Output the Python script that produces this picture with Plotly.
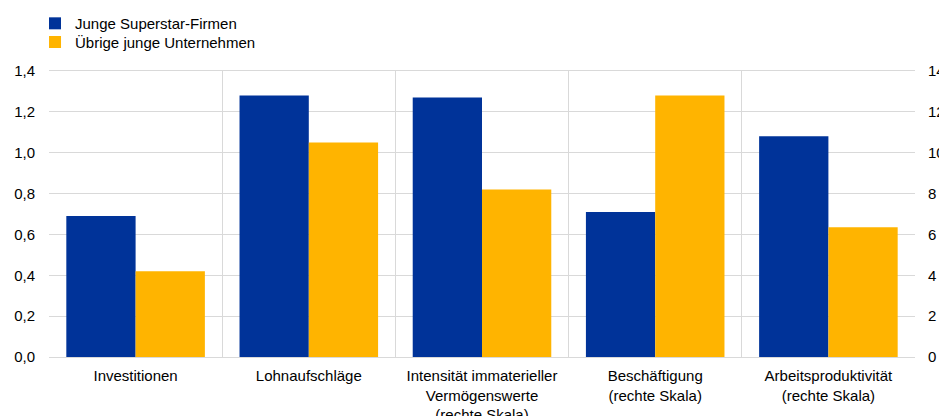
import plotly.graph_objects as go

# Categories (x axis)
categories = [
    "Investitionen",
    "Lohnaufschläge",
    "Intensität immaterieller<br>Vermögenswerte<br>(rechte Skala)",
    "Beschäftigung<br>(rechte Skala)",
    "Arbeitsproduktivität<br>(rechte Skala)",
]
series_names = ["Junge Superstar-Firmen", "Übrige junge Unternehmen"]

# Left-scale categories
left_categories = categories[:2]
superstar_left = [0.69, 1.28]
other_left = [0.42, 1.05]

# Right-scale categories
right_categories = categories[2:]
superstar_right = [12.7, 7.1, 10.8]
other_right = [8.2, 12.8, 6.35]

left_ticks = [0, 0.2, 0.4, 0.6, 0.8, 1.0, 1.2, 1.4]
right_ticks = [0, 2, 4, 6, 8, 10, 12, 14]

BLUE = "#003399"
YELLOW = "#FFB400"
GRID = "#d9d9d9"
FONT = dict(family="Liberation Sans, Arial, sans-serif", size=15, color="#000000")

fig = go.Figure()

def add_bar(x, y, name, color, offset, yaxis, showlegend, legend):
    fig.add_trace(go.Bar(
        x=x, y=y, name=name, marker=dict(color=color, line=dict(width=0)),
        width=0.4, offset=offset, yaxis=yaxis, showlegend=showlegend,
        legendgroup=name, legend=legend,
    ))

add_bar(left_categories, superstar_left, series_names[0], BLUE, -0.4, "y", True, "legend")
add_bar(left_categories, other_left, series_names[1], YELLOW, 0.0, "y", True, "legend2")
add_bar(right_categories, superstar_right, series_names[0], BLUE, -0.4, "y2", False, "legend")
add_bar(right_categories, other_right, series_names[1], YELLOW, 0.0, "y2", False, "legend2")

legend_style = dict(
    xref="container", yref="container", x=0.0373,
    xanchor="left", yanchor="top", font=FONT, bgcolor="rgba(0,0,0,0)",
)

fig.update_layout(
    width=939, height=416,
    margin=dict(l=49, r=24, t=71, b=59, autoexpand=False),
    paper_bgcolor="white", plot_bgcolor="white",
    font=FONT,
    separators=",.",
    barmode="overlay",
    legend=dict(y=0.983, **legend_style),
    legend2=dict(y=0.938, **legend_style),
    xaxis=dict(
        categoryorder="array", categoryarray=categories,
        range=[-0.5, 4.5], automargin=False,
        tickson="boundaries", showgrid=True, gridcolor=GRID, gridwidth=1,
        ticks="", showline=True, linecolor=GRID, mirror=True,
        tickfont=FONT, ticklabelstandoff=5,
    ),
    yaxis=dict(
        range=[0, 1.4], tickvals=left_ticks, tickformat=".1f",
        automargin=False,
        showgrid=True, gridcolor=GRID, gridwidth=1,
        zeroline=False, ticks="", tickfont=FONT, ticklabelstandoff=13,
        showline=False,
    ),
    yaxis2=dict(
        range=[0, 14], tickvals=right_ticks, tickformat="d",
        automargin=False,
        overlaying="y", side="right", showgrid=False, zeroline=False,
        ticks="", tickfont=FONT, ticklabelstandoff=12,
    ),
)

fig.write_html("out.html")
